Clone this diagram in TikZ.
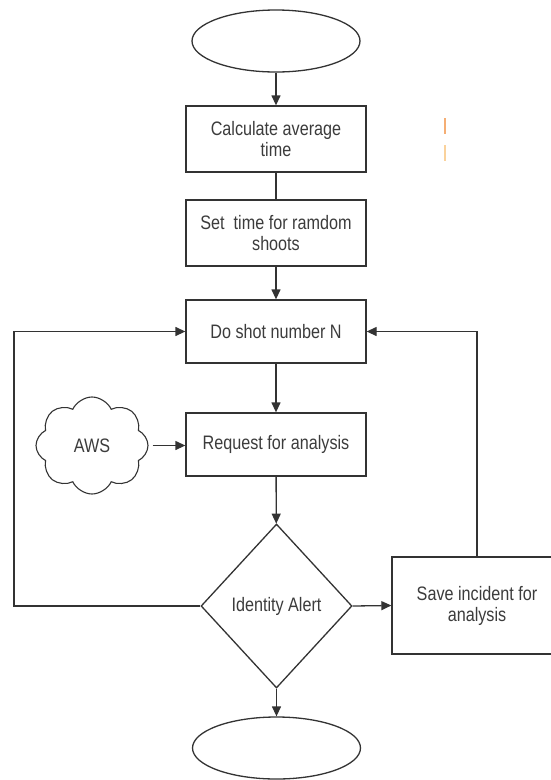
\documentclass[tikz,border=0pt]{standalone}
\usepackage{fontspec}
\setmainfont[FakeStretch=0.83]{Liberation Sans}
\usetikzlibrary{shapes.geometric,shapes.symbols,arrows.meta}
\definecolor{linec}{HTML}{333333}
\definecolor{textc}{HTML}{3C3C3C}
\definecolor{tickA}{HTML}{F5AE74}
\definecolor{tickB}{HTML}{FAD29C}
\begin{document}
\begin{tikzpicture}[x=1pt,y=-1pt,
  line/.style={draw=linec, line width=1.3pt},
  arr/.style={line, -{Triangle[length=10pt,width=9pt]}},
  txt/.style={text=textc, font=\fontsize{19.5}{21}\selectfont, align=center, inner sep=0pt},
  box/.style={txt, draw=linec, line width=1.3pt, rectangle, minimum width=180pt},
  term/.style={draw=linec, line width=1.3pt, ellipse, minimum width=168pt, minimum height=62pt, inner sep=0pt},
  decision/.style={txt, draw=linec, line width=1.3pt, diamond, minimum width=151pt, minimum height=164pt},
  cloudbox/.style={txt, draw=linec, line width=1.1pt, cloud, cloud puffs=8, cloud puff arc=130, aspect=1.15, minimum width=112pt, minimum height=97pt},
  tick/.style={line width=1.6pt}]
\useasboundingbox (0,0) rectangle (551,780);
\clip (0,0) rectangle (551,780);
\fill[white] (0,0) rectangle (551,780);

\node[term] (start) at (276,41) {};
\node[box, minimum height=66pt] (b1) at (276,139) {Calculate average\\time};
\node[box, minimum height=66pt] (b2) at (276,233) {Set~ time for ramdom\\shoots};
\node[box, minimum height=63pt] (b3) at (276,331.5) {Do shot number N};
\node[box, minimum height=63pt] (b4) at (276,444.5) {Request for analysis};
\node[cloudbox] (aws) at (92,445.5) {AWS};
\node[decision] (d) at (276.5,606) {Identity Alert};
\node[box, minimum width=170pt, minimum height=97pt] (save) at (477,605.5) {Save incident for\\analysis};
\node[term] (end) at (276.5,748) {};

\coordinate (lc) at (14,606);

\draw[arr] (start) -- (b1);
\draw[line] (b1) -- (b2);
\draw[arr] (b2) -- (b3);
\draw[arr] (b3) -- (b4);
\draw[arr, shorten <=4pt] (aws.east) -- (b4.west |- aws.east);
\draw[arr] (b4) -- (d);
\draw[arr] (d.west) -- (lc) |- (b3.west);
\draw[arr] (d.east) -- (save.west);
\draw[arr] (save.north) |- (b3.east);
\draw[arr] (d.south) -- (end.north);

\draw[tick, tickA] (445,118) -- (445,134);
\draw[tick, tickB] (445,145) -- (445,161);
\end{tikzpicture}
\end{document}
